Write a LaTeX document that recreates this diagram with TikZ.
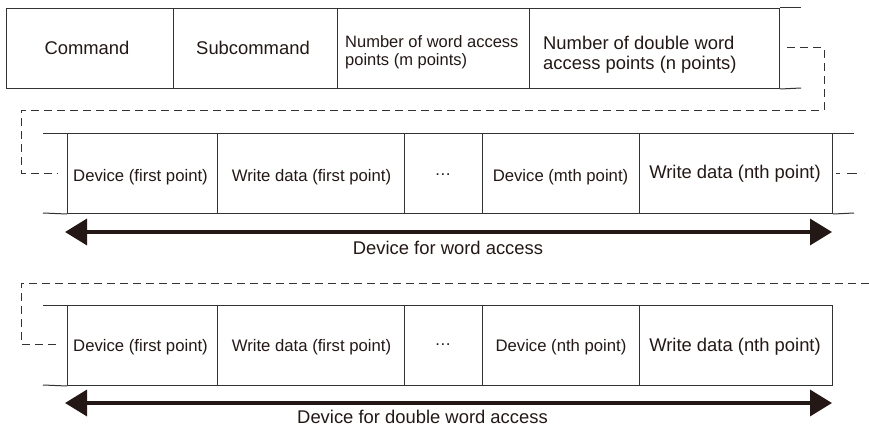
\documentclass[tikz,border=0pt]{standalone}
\usepackage{fontspec}
\setmainfont{Liberation Sans}
\usetikzlibrary{arrows.meta}
\definecolor{ink}{HTML}{231815}
\definecolor{rule}{HTML}{333333}
\begin{document}
\begin{tikzpicture}[x=1pt,y=-1pt,
  cell/.style={draw=rule, line width=1pt, minimum height=80pt, inner sep=0pt, anchor=north west},
  ext/.style={draw=rule, line width=1pt},
  dsh/.style={draw=rule, line width=1pt, dash pattern=on 8pt off 5pt},
  txs/.style={font=\fontsize{16.7}{19}\selectfont, text=ink, inner sep=0pt, anchor=base},
  txl/.style={font=\fontsize{18.4}{20}\selectfont, text=ink, inner sep=0pt, anchor=base},
  bigarrow/.style={draw=ink, line width=3.5pt, {Triangle[length=22pt,width=26pt]}-{Triangle[length=22pt,width=26pt]}}
]
\useasboundingbox (0,0) rectangle (869,428);

% Row 1
\node[cell, minimum width=167pt] (c1) at (6,8) {};
\node[cell, minimum width=164pt] (c2) at (173,8) {};
\node[cell, minimum width=192pt] (c3) at (337,8) {};
\node[cell, minimum width=250pt] (c4) at (529,8) {};
\coordinate (c4t) at (801,8);
\coordinate (c4b) at (801,88);
\draw[ext] (c4.north east) -- (c4t);
\draw[ext] (c4.south east) -- (c4b);

\node[txl] (t1) at (87,55) {Command};
\node[txl] (t2) at (253,55) {Subcommand};
\node[font=\fontsize{16.5}{18.5}\selectfont, text=ink, inner sep=0pt, align=left, anchor=west] (t3) at (345,52) {Number of word access\\points (m points)};
\node[font=\fontsize{18.4}{20}\selectfont, text=ink, inner sep=0pt, align=left, anchor=west] (t4) at (543,55) {Number of double word\\access points (n points)};

% dashed continuation 1
\coordinate (a1) at (787,48);
\coordinate (a2) at (824,110);
\coordinate (a3) at (21,173);
\coordinate (a4) at (58,173);
\draw[dsh] (a1) -| (a2) -| (a3) -- (a4);

% Row 2
\node[cell, minimum width=150pt] (d1) at (67,133) {};
\node[cell, minimum width=187pt] (d2) at (217,133) {};
\node[cell, minimum width=78pt] (d3) at (404,133) {};
\node[cell, minimum width=157pt] (d4) at (482,133) {};
\node[cell, minimum width=193pt] (d5) at (639,133) {};
\coordinate (d1t) at (43,133);
\coordinate (d1b) at (43,213);
\coordinate (d5t) at (854,133);
\coordinate (d5b) at (854,213);
\draw[ext] (d1t) -- (d1.north west);
\draw[ext] (d1b) -- (d1.south west);
\draw[ext] (d5.north east) -- (d5t);
\draw[ext] (d5.south east) -- (d5b);

\node[txs] (u1) at (140.5,181) {Device (first point)};
\node[txs] (u2) at (311.5,181) {Write data (first point)};
\node[txs] (u3) at (443,181) {\raisebox{5.5pt}{…}};
\node[txs] (u4) at (560.5,181) {Device (mth point)};
\node[txl] (u5) at (735,178.5) {Write data (nth point)};

\coordinate (b1) at (836,173);
\coordinate (b2) at (864,173);
\draw[dsh, dash pattern=on 4pt off 7pt on 10pt off 7pt] (b1) -- (b2);

% arrow 1
\coordinate (r1) at (65,232);
\coordinate (r2) at (832,232);
\draw[bigarrow] (r1) -- (r2);
\node[txl] (l1) at (448,254) {Device for word access};

% dashed continuation 2
\coordinate (e1) at (869,283);
\coordinate (e2) at (21,344);
\coordinate (e3) at (58,344);
\draw[dsh] (e1) -| (e2) -- (e3);

% Row 3
\node[cell, minimum width=150pt] (f1) at (67,305) {};
\node[cell, minimum width=187pt] (f2) at (217,305) {};
\node[cell, minimum width=78pt] (f3) at (404,305) {};
\node[cell, minimum width=157pt] (f4) at (482,305) {};
\node[cell, minimum width=193pt] (f5) at (639,305) {};
\coordinate (f1t) at (43,305);
\coordinate (f1b) at (43,385);
\draw[ext] (f1t) -- (f1.north west);
\draw[ext] (f1b) -- (f1.south west);

\node[txs] (v1) at (140.5,351) {Device (first point)};
\node[txs] (v2) at (311.5,351) {Write data (first point)};
\node[txs] (v3) at (443,351) {\raisebox{5.5pt}{…}};
\node[txs] (v4) at (561,351) {Device (nth point)};
\node[txl] (v5) at (735,351.5) {Write data (nth point)};

% arrow 2
\coordinate (s1) at (65,403);
\coordinate (s2) at (832,403);
\draw[bigarrow] (s1) -- (s2);
\node[txl] (l2) at (422.5,423) {Device for double word access};
\end{tikzpicture}
\end{document}
